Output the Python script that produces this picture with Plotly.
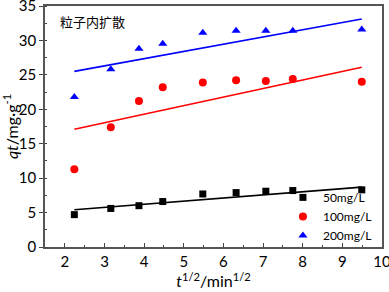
import plotly.graph_objects as go

sqrt_t = [2.24, 3.16, 3.87, 4.47, 5.48, 6.32, 7.07, 7.75, 9.49]
q50 = [4.7, 5.6, 6.0, 6.6, 7.7, 7.9, 8.1, 8.2, 8.3]
q100 = [11.3, 17.4, 21.2, 23.2, 23.9, 24.2, 24.1, 24.4, 24.0]
q200 = [21.8, 25.8, 28.8, 29.5, 31.1, 31.4, 31.4, 31.4, 31.6]

fit_x = [2.24, 9.49]
fit50 = [5.4, 8.7]
fit100 = [17.1, 26.1]
fit200 = [25.5, 33.1]

x_ticks = [2, 3, 4, 5, 6, 7, 8, 9, 10]
y_ticks = [0, 5, 10, 15, 20, 25, 30, 35]

names = ["50mg/L", "100mg/L", "200mg/L"]
colors = ["black", "red", "blue"]
symbols = ["square", "circle", "triangle-up"]

fig = go.Figure()
for fit, c in zip([fit50, fit100, fit200], colors):
    fig.add_trace(go.Scatter(x=fit_x, y=fit, mode="lines", line=dict(color=c, width=1.6),
                             showlegend=False, hoverinfo="skip"))
for q, n, c, s in zip([q50, q100, q200], names, colors, symbols):
    fig.add_trace(go.Scatter(x=sqrt_t, y=q, mode="markers", name=n,
                             marker=dict(color=c, symbol=s, size=7 if s == "square" else 8)))

font = "Lato, Noto Sans CJK SC, sans-serif"
fig.update_layout(
    width=389, height=292,
    margin=dict(l=45, r=7, t=6, b=45, autoexpand=False),
    plot_bgcolor="white", paper_bgcolor="white",
    font=dict(family=font, size=15, color="black"),
    legend=dict(x=0.985, y=-0.012, xanchor="right", yanchor="bottom",
                bgcolor="rgba(0,0,0,0)", font=dict(size=12), itemwidth=30,
                tracegroupgap=0),
    annotations=[dict(text="粒子内扩散", x=0.04, y=0.985, xref="paper", yref="paper",
                      xanchor="left", yanchor="top", showarrow=False,
                      font=dict(size=13, family="Noto Sans CJK SC"))],
)
fig.update_xaxes(range=[1.5, 10], tickmode="array", tickvals=x_ticks,
                 ticks="inside", ticklen=4, automargin=False, ticklabeloverflow="allow",
                 showline=True, linecolor="#555", linewidth=1.5, mirror=True,
                 showgrid=False, zeroline=False,
                 minor=dict(dtick=0.5, ticks="inside", ticklen=2),
                 title=dict(text="<i>t</i><sup>1/2</sup>/min<sup>1/2</sup>", standoff=6,
                            font=dict(size=16)))
fig.update_yaxes(range=[0, 35], tickmode="array", tickvals=y_ticks,
                 ticks="outside", ticklen=4, automargin=False, ticklabeloverflow="allow",
                 showline=True, linecolor="#555", linewidth=1.5, mirror=True,
                 showgrid=False, zeroline=False,
                 minor=dict(dtick=2.5, ticks="inside", ticklen=2),
                 title=dict(text="<i>qt</i>/mg·g<sup>-1</sup>", standoff=2,
                            font=dict(size=16)))
fig.write_html("out.html", config={"displayModeBar": False},
               post_script="document.body.style.margin='0';document.body.style.padding='0';")
